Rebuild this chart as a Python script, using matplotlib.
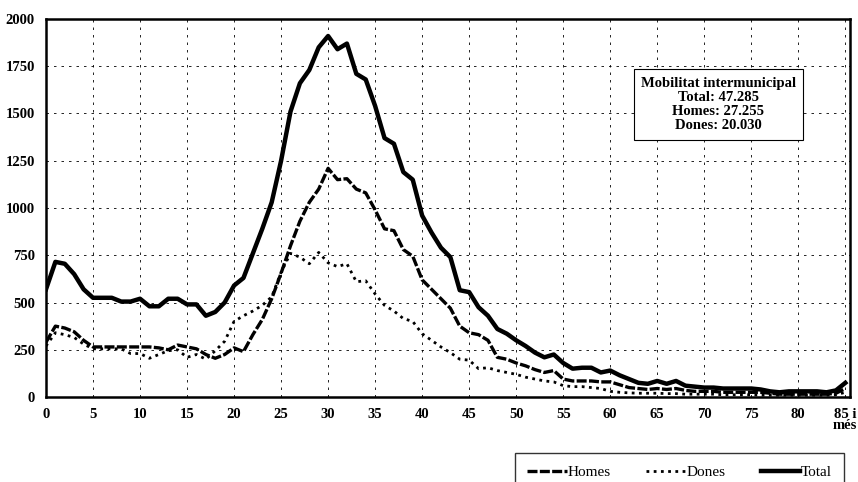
import matplotlib.pyplot as plt
import numpy as np

# edats 0..85 (85 = "85 i més")
edats = np.arange(0, 86)

total = [570, 715, 705, 650, 570, 525, 525, 525, 505, 505,
         520, 480, 480, 520, 520, 490, 490, 430, 450, 500,
         590, 630, 760, 890, 1030, 1250, 1510, 1660, 1730, 1850,
         1910, 1840, 1870, 1710, 1680, 1540, 1370, 1340, 1190, 1150,
         960, 870, 790, 740, 565, 555, 475, 430, 360, 335,
         300, 270, 235, 210, 225, 180, 150, 155, 155, 130,
         140, 115, 95, 75, 70, 85, 70, 85, 60, 55,
         50, 50, 45, 45, 45, 45, 40, 30, 25, 30,
         30, 30, 30, 25, 35, 75]

homes = [290, 375, 365, 345, 300, 265, 265, 265, 265, 265,
         265, 265, 260, 250, 275, 265, 255, 225, 205, 225,
         260, 240, 330, 410, 520, 655, 800, 930, 1030, 1100,
         1210, 1150, 1155, 1100, 1080, 990, 890, 880, 780, 745,
         620, 570, 520, 470, 375, 340, 330, 300, 210, 200,
         180, 165, 145, 130, 140, 95, 85, 85, 85, 80,
         80, 65, 50, 45, 40, 45, 40, 45, 35, 30,
         30, 30, 25, 25, 25, 25, 25, 20, 15, 15,
         15, 15, 15, 15, 20, 45]

dones = [270, 340, 330, 315, 280, 255, 255, 255, 255, 230,
         230, 205, 225, 245, 250, 210, 225, 200, 245, 295,
         400, 430, 455, 485, 530, 660, 760, 740, 705, 765,
         710, 690, 705, 610, 615, 545, 485, 455, 415, 400,
         335, 300, 265, 235, 200, 195, 150, 155, 140, 130,
         120, 105, 95, 85, 80, 60, 55, 55, 50, 45,
         30, 25, 22, 20, 20, 20, 18, 18, 15, 15,
         15, 15, 12, 12, 12, 12, 10, 10, 10, 10,
         10, 10, 10, 10, 12, 25]

x_ticks = list(range(0, 86, 5))
x_labels = [str(t) for t in x_ticks[:-1]] + ["85 i\nmés"]
y_ticks = list(range(0, 2001, 250))

plt.rcParams["font.family"] = ["Liberation Serif", "DejaVu Serif"]

fig = plt.figure(figsize=(8.58, 4.82), dpi=100)
ax = fig.add_axes([0.0536, 0.1763, 0.9371, 0.7843])

ax.plot(edats, homes, color="black", lw=2.4, ls=(0, (3, 0.7)), label="Homes")
ax.plot(edats, dones, color="black", lw=2.0, ls=(0, (1, 1.6)), label="Dones")
ax.plot(edats, total, color="black", lw=3.2, label="Total")

ax.set_xlim(0, 85.5)
ax.set_ylim(0, 2000)
ax.set_xticks(x_ticks)
ax.set_xticklabels(x_labels, fontweight="bold", fontsize=10.5)
ax.set_yticks(y_ticks)
ax.set_yticklabels([str(v) for v in y_ticks], fontweight="bold", fontsize=10.5)
ax.tick_params(length=0, pad=8)
for lbl in ax.get_xticklabels()[-1:]:
    lbl.set_linespacing(0.8)

ax.grid(True, color="black", lw=0.6, ls=(0, (3, 6)))
for s in ax.spines.values():
    s.set_linewidth(1.8)

# caixa d'anotació
ax.text(71.5, 1548,
        "Mobilitat intermunicipal\nTotal: 47.285\nHomes: 27.255\nDones: 20.030",
        ha="center", va="center", fontsize=10.5, fontweight="bold",
        linespacing=1.12,
        bbox=dict(boxstyle="square,pad=0.5", fc="white", ec="black", lw=0.8))

fig.legend(loc="lower right", bbox_to_anchor=(0.993, -0.035), ncol=3,
           frameon=True, fancybox=False, edgecolor="black", fontsize=11,
           handlelength=2.6, handletextpad=0.05, columnspacing=2.3,
           borderpad=0.8)

fig.savefig("out.png", dpi=100)
